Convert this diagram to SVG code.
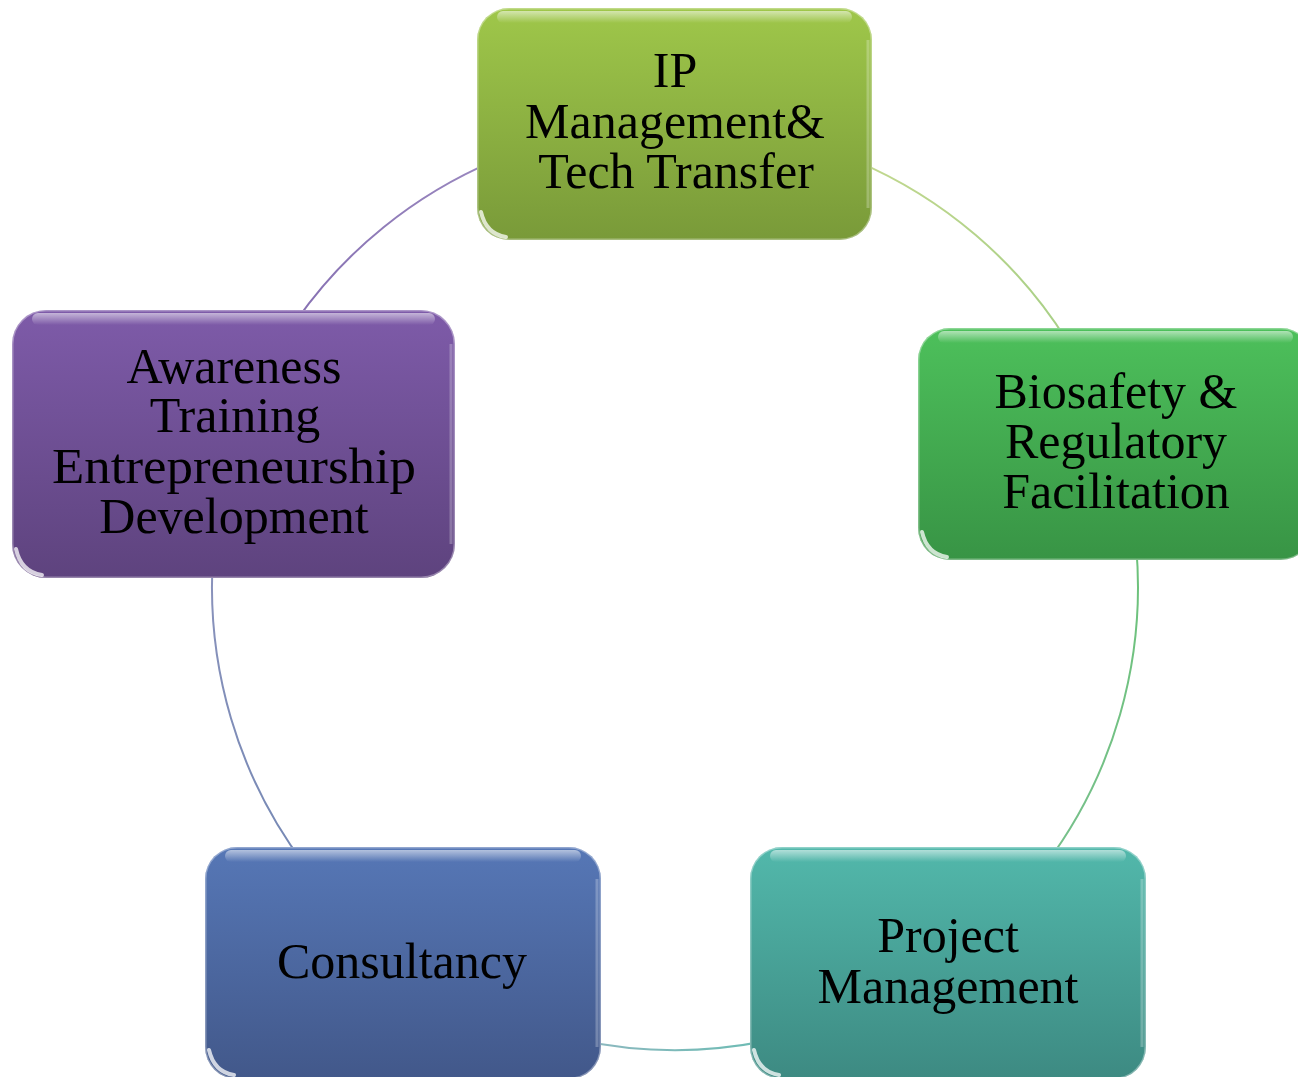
<svg xmlns="http://www.w3.org/2000/svg" width="1298" height="1077" viewBox="0 0 1298 1077">
  <style>
    .label { font-family: "Liberation Serif", "Times New Roman", serif; font-size: 50px; fill: #000; text-anchor: middle; }
    .arc { fill: none; stroke-width: 2; }
    .rim { fill: none; stroke: #ffffff; stroke-opacity: 0.35; stroke-width: 1.5; }
    .sheen { fill: url(#sheen); }
    .glint { fill: none; stroke: #ffffff; stroke-opacity: 0.75; stroke-width: 4; stroke-linecap: round; }
    .edge { fill: none; stroke: #ffffff; stroke-opacity: 0.25; stroke-width: 3; }
  </style>
  <defs>
    <linearGradient id="gIP" x1="0" y1="0" x2="0" y2="1">
      <stop offset="0" stop-color="#9fc74a"/>
      <stop offset="1" stop-color="#799a39"/>
    </linearGradient>
    <linearGradient id="gBio" x1="0" y1="0" x2="0" y2="1">
      <stop offset="0" stop-color="#4dc05b"/>
      <stop offset="1" stop-color="#389445"/>
    </linearGradient>
    <linearGradient id="gProj" x1="0" y1="0" x2="0" y2="1">
      <stop offset="0" stop-color="#52b8ab"/>
      <stop offset="1" stop-color="#3d8a82"/>
    </linearGradient>
    <linearGradient id="gCons" x1="0" y1="0" x2="0" y2="1">
      <stop offset="0" stop-color="#5677b6"/>
      <stop offset="1" stop-color="#42588a"/>
    </linearGradient>
    <linearGradient id="gAware" x1="0" y1="0" x2="0" y2="1">
      <stop offset="0" stop-color="#7e5ba9"/>
      <stop offset="1" stop-color="#5e437e"/>
    </linearGradient>
    <linearGradient id="sheen" x1="0" y1="0" x2="0" y2="1">
      <stop offset="0" stop-color="#ffffff" stop-opacity="0.55"/>
      <stop offset="1" stop-color="#ffffff" stop-opacity="0"/>
    </linearGradient>
    <!-- connector strokes blend between the colours of the two boxes they join -->
    <linearGradient id="cAI" gradientUnits="userSpaceOnUse" x1="296" y1="321" x2="494" y2="161">
      <stop offset="0" stop-color="#8670b2"/>
      <stop offset="1" stop-color="#9a88bf"/>
    </linearGradient>
    <linearGradient id="cIB" gradientUnits="userSpaceOnUse" x1="856" y1="161" x2="1068" y2="342">
      <stop offset="0" stop-color="#c2d88f"/>
      <stop offset="1" stop-color="#a7cf86"/>
    </linearGradient>
    <linearGradient id="cBP" gradientUnits="userSpaceOnUse" x1="1136" y1="547" x2="1045" y2="866">
      <stop offset="0" stop-color="#6cc27a"/>
      <stop offset="1" stop-color="#78c08c"/>
    </linearGradient>
    <linearGradient id="cPC" gradientUnits="userSpaceOnUse" x1="771" y1="1040" x2="579" y2="1040">
      <stop offset="0" stop-color="#6bbcb3"/>
      <stop offset="1" stop-color="#8fb8c0"/>
    </linearGradient>
    <linearGradient id="cCA" gradientUnits="userSpaceOnUse" x1="305" y1="866" x2="213" y2="555">
      <stop offset="0" stop-color="#7588b4"/>
      <stop offset="1" stop-color="#8b93bc"/>
    </linearGradient>
  </defs>

  <rect width="1298" height="1077" fill="#ffffff"/>

  <!-- ring of connectors: circle centre (675,587), radius 463 -->
  <g id="connectors">
    <path class="arc" stroke="url(#cAI)" d="M295.7,321.4 A463,463 0 0 1 494.1,160.8"/>
    <path class="arc" stroke="url(#cIB)" d="M855.9,160.8 A463,463 0 0 1 1067.6,341.7"/>
    <path class="arc" stroke="url(#cBP)" d="M1136.2,546.6 A463,463 0 0 1 1044.8,865.6"/>
    <path class="arc" stroke="url(#cPC)" d="M771.3,1039.9 A463,463 0 0 1 578.7,1039.9"/>
    <path class="arc" stroke="url(#cCA)" d="M305.2,865.6 A463,463 0 0 1 213.1,554.7"/>
  </g>

  <g id="node-ip">
    <rect x="477" y="8" width="395" height="232" rx="32" fill="url(#gIP)"/>
    <rect class="rim" x="477.75" y="8.75" width="393.5" height="230.5" rx="31"/>
    <rect class="sheen" x="497" y="11" width="355" height="12" rx="6"/>
    <path class="edge" d="M868,40 V208"/>
    <path class="glint" d="M481,212 Q486,234 506,237"/>
    <text class="label" x="675" y="87">IP</text>
    <text class="label" x="675" y="138">Management&amp;</text>
    <text class="label" x="676" y="188">Tech Transfer</text>
  </g>

  <g id="node-biosafety">
    <rect x="918" y="328" width="395" height="232" rx="32" fill="url(#gBio)"/>
    <rect class="rim" x="918.75" y="328.75" width="393.5" height="230.5" rx="31"/>
    <rect class="sheen" x="938" y="331" width="355" height="12" rx="6"/>
    <path class="glint" d="M922,532 Q927,554 947,557"/>
    <text class="label" x="1116" y="408">Biosafety &amp;</text>
    <text class="label" x="1116" y="458">Regulatory</text>
    <text class="label" x="1116" y="508">Facilitation</text>
  </g>

  <g id="node-project">
    <rect x="750" y="847" width="396" height="232" rx="32" fill="url(#gProj)"/>
    <rect class="rim" x="750.75" y="847.75" width="394.5" height="230.5" rx="31"/>
    <rect class="sheen" x="770" y="850" width="356" height="12" rx="6"/>
    <path class="edge" d="M1142,879 V1047"/>
    <path class="glint" d="M754,1050 Q759,1072 779,1075"/>
    <text class="label" x="948" y="952">Project</text>
    <text class="label" x="948" y="1003">Management</text>
  </g>

  <g id="node-consultancy">
    <rect x="205" y="847" width="396" height="232" rx="32" fill="url(#gCons)"/>
    <rect class="rim" x="205.75" y="847.75" width="394.5" height="230.5" rx="31"/>
    <rect class="sheen" x="225" y="850" width="356" height="12" rx="6"/>
    <path class="edge" d="M597,879 V1047"/>
    <path class="glint" d="M209,1050 Q214,1072 234,1075"/>
    <text class="label" x="402" y="978">Consultancy</text>
  </g>

  <g id="node-awareness">
    <rect x="12" y="310" width="443" height="268" rx="34" fill="url(#gAware)"/>
    <rect class="rim" x="12.75" y="310.75" width="441.5" height="266.5" rx="33"/>
    <rect class="sheen" x="32" y="313" width="403" height="12" rx="6"/>
    <path class="edge" d="M451,344 V544"/>
    <path class="glint" d="M16,549 Q21,572 42,575"/>
    <text class="label" x="234" y="383">Awareness</text>
    <text class="label" x="235" y="432">Training</text>
    <text class="label" x="234" y="483" textLength="364" lengthAdjust="spacingAndGlyphs">Entrepreneurship</text>
    <text class="label" x="234" y="533">Development</text>
  </g>
</svg>
